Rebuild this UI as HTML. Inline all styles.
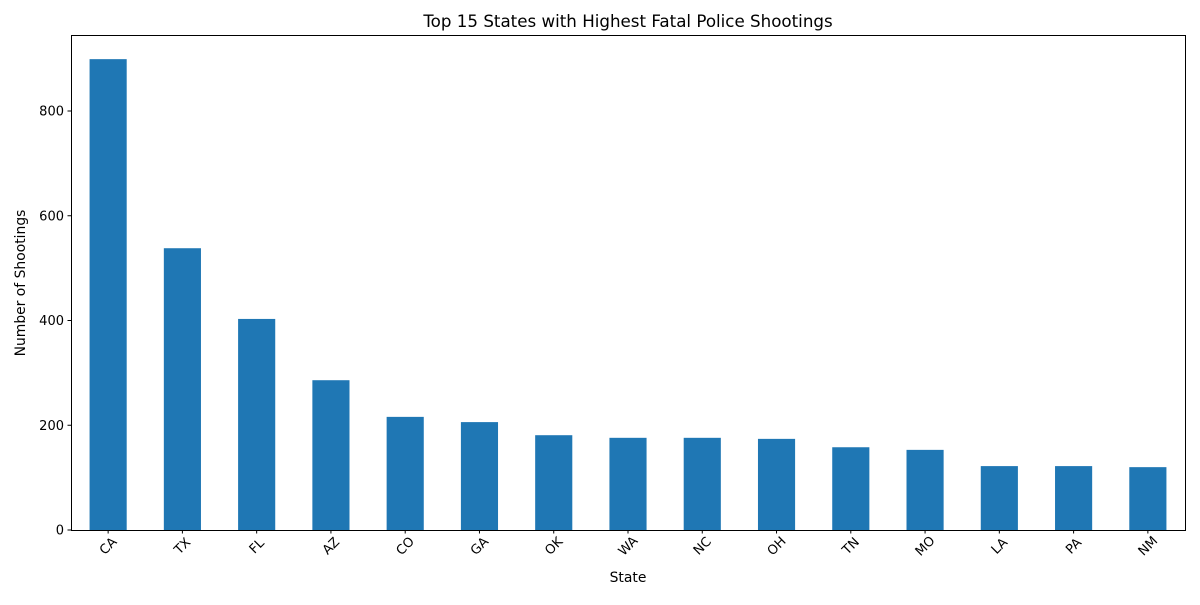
<!DOCTYPE html>
<html><head><meta charset="utf-8"><style>
body{margin:0;background:#fff;}
svg text{font-family:"DejaVu Sans","Liberation Sans",sans-serif;fill:#000;}
</style></head><body>
<svg id="chart" width="1200" height="600" xmlns="http://www.w3.org/2000/svg">
<rect width="1200" height="600" fill="#fff"/>
<text x="628" y="27" font-size="16.7" text-anchor="middle">Top 15 States with Highest Fatal Police Shootings</text>
<text x="628" y="582" font-size="13.9" text-anchor="middle">State</text>
<text transform="translate(25,283) rotate(-90)" font-size="13.9" text-anchor="middle">Number of Shootings</text>
<g id="bars"></g><g id="ticks"></g>
<rect x="71.5" y="35.5" width="1114" height="495" fill="none" stroke="#000" stroke-width="1"/>
</svg>
<script>
const categories=["CA","TX","FL","AZ","CO","GA","OK","WA","NC","OH","TN","MO","LA","PA","NM"];
const values=[899,538,403,286,216,206,181,176,176,174,158,153,122,122,120];
const yTicks=[0,200,400,600,800];
const L=71,R=1185,T=35,B=530;
const slot=(R-L)/categories.length;
const xC=i=>L+slot*(i+0.5);
const y=v=>B-v*(419/800);
const ns="http://www.w3.org/2000/svg";
const bars=document.getElementById('bars'),ticks=document.getElementById('ticks');
function mk(t,a,p){const e=document.createElementNS(ns,t);for(const k in a)e.setAttribute(k,a[k]);p.appendChild(e);return e;}
categories.forEach((c,i)=>{
 const r=mk('rect',{x:xC(i)-slot/4,y:y(values[i]),width:slot/2,height:B-y(values[i]),fill:'#1f77b4'},bars);
 
 
 const tk=mk('line',{x1:xC(i),x2:xC(i),y1:B,y2:B+3.5,stroke:'#000'},ticks);
 
 
 const tx=mk('text',{x:0,y:0,'font-size':13,'text-anchor':'middle',transform:`translate(${xC(i)+3},${B+19}) rotate(-45)`},ticks);
 tx.textContent=c;
 
 
});
yTicks.forEach(v=>{
 const tk=mk('line',{x1:L-3.5,x2:L,y1:y(v),y2:y(v),stroke:'#000'},ticks);
 
 
 const tx=mk('text',{x:L-7,y:y(v)+4.5,'font-size':13,'text-anchor':'end'},ticks);
 tx.textContent=v;
 
 
});
</script>
</body></html>
